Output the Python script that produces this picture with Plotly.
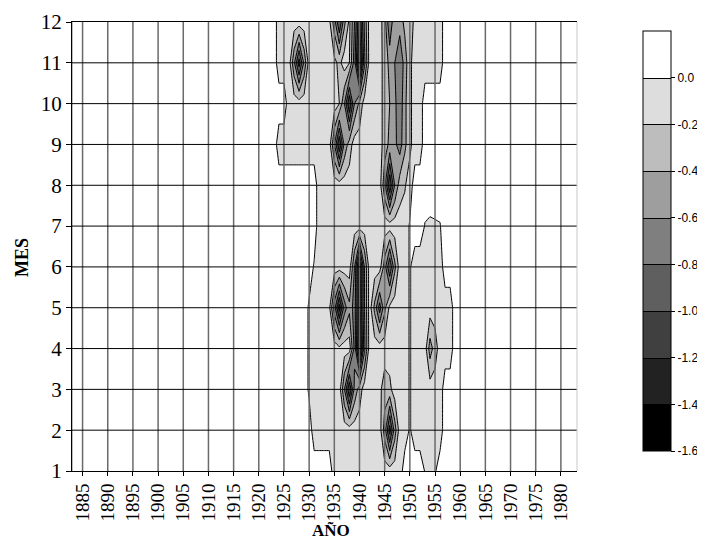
import plotly.graph_objects as go

# ---------------- data ----------------
YEARS = [1883,
         1921, 1922, 1923, 1924, 1925, 1926, 1927, 1928, 1929, 1930,
         1931, 1932, 1933, 1934, 1935, 1936, 1937, 1938, 1939, 1940,
         1941, 1942, 1943, 1944, 1945, 1946, 1947, 1948, 1949, 1950,
         1951, 1952, 1953, 1954, 1955, 1956, 1957, 1958, 1959, 1960,
         1961,
         1983]
MONTHS = [1, 2, 3, 4, 5, 6, 7, 8, 9, 10, 11, 12]

# one row per month; columns follow YEARS
m01 = [0.1,  0.1, 0.1, 0.1, 0.1, 0.1, 0.1, 0.1, 0.1, 0.1, 0.1,    0.1, 0.1, 0.1, 0.1, -0.1, -0.1, -0.1, -0.1, -0.1, -0.1,    -0.1, -0.1, -0.1, -0.1, -0.1, -0.1, -0.1, -0.1, 0.1, 0.1,    0.1, 0.1, -0.01, -0.04, -0.02, 0.1, 0.1, 0.1, 0.1, 0.1,    0.1, 0.1]
m02 = [0.1,  0.1, 0.1, 0.1, 0.1, 0.1, 0.1, 0.1, 0.1, 0.1, 0.1,    -0.1, -0.1, -0.1, -0.1, -0.1, -0.1, -0.1, -0.1, -0.1, -0.1,    -0.1, -0.1, -0.1, -0.1, -0.5, -1.1, -0.5, -0.1, -0.1, 0.02,    -0.1, -0.1, -0.1, -0.1, -0.1, -0.1, 0.1, 0.1, 0.1, 0.1,    0.1, 0.1]
m03 = [0.1,  0.1, 0.1, 0.1, 0.1, 0.1, 0.1, 0.1, 0.1, 0.1, -0.03,  -0.1, -0.1, -0.1, -0.1, -0.1, -0.1, -0.6, -1.2, -0.55, -0.3,   -0.1, -0.1, -0.1, -0.15, -0.3, -0.25, -0.1, -0.1, -0.1, 0.02,   -0.1, -0.1, -0.1, -0.1, -0.1, -0.1, 0.1, 0.1, 0.1, 0.1,    0.1, 0.1]
m04 = [0.1,  0.1, 0.1, 0.1, 0.1, 0.1, 0.1, 0.1, 0.1, 0.1, -0.03,  -0.1, -0.1, -0.1, -0.1, -0.1, -0.15, -0.1, -0.1, -0.65, -1.5,  -0.65, -0.1, -0.1, -0.1, -0.1, -0.1, -0.1, -0.1, -0.1, 0.02,    -0.1, -0.1, -0.1, -0.5, -0.3, -0.1, -0.1, -0.1, 0.1, 0.1,    0.1, 0.1]
m05 = [0.1,  0.1, 0.1, 0.1, 0.1, 0.1, 0.1, 0.1, 0.1, 0.1, -0.03,  -0.1, -0.1, -0.1, -0.15, -0.7, -1.3, -0.7, -0.45, -0.7, -1.3,  -0.6, -0.1, -0.45, -0.9, -0.45, -0.15, -0.1, -0.1, -0.1, 0.02,  -0.1, -0.1, -0.1, -0.1, -0.1, -0.1, -0.1, -0.1, 0.1, 0.1,    0.1, 0.1]
m06 = [0.1,  0.1, 0.1, 0.1, 0.1, 0.1, 0.1, 0.1, 0.1, 0.1, 0.1,    -0.02, -0.1, -0.1, -0.1, -0.1, -0.1, -0.1, -0.1, -0.6, -1.4,  -0.6, -0.1, -0.1, -0.1, -0.5, -1.0, -0.45, -0.1, -0.1, 0.02,   -0.1, -0.1, -0.1, -0.1, -0.1, -0.1, 0.1, 0.1, 0.1, 0.1,    0.1, 0.1]
m07 = [0.1,  0.1, 0.1, 0.1, 0.1, 0.1, 0.1, 0.1, 0.1, 0.1, 0.1,    0.1, -0.1, -0.1, -0.1, -0.1, -0.1, -0.1, -0.1, -0.1, -0.1,    -0.1, -0.1, -0.1, -0.1, -0.1, -0.1, -0.1, -0.1, -0.1, 0.02,    0.1, 0.1, -0.01, -0.03, -0.02, -0.01, 0.1, 0.1, 0.1, 0.1,    0.1, 0.1]
m08 = [0.1,  0.1, 0.1, 0.1, 0.1, 0.1, 0.1, 0.1, 0.1, 0.1, 0.1,    0.1, -0.1, -0.1, -0.1, -0.1, -0.1, -0.1, -0.1, -0.1, -0.1,    -0.1, -0.1, -0.1, -0.1, -0.55, -1.2, -0.6, -0.3, -0.22, -0.1,  0.1, 0.1, 0.1, 0.1, 0.1, 0.1, 0.1, 0.1, 0.1, 0.1,    0.1, 0.1]
m09 = [0.1,  0.1, 0.1, 0.1, -0.1, -0.1, -0.1, -0.1, -0.1, -0.1, -0.1,  -0.1, -0.1, -0.1, -0.1, -0.6, -1.2, -0.55, -0.3, -0.1, -0.1,  -0.1, -0.1, -0.1, -0.1, -0.3, -0.45, -0.55, -0.7, -0.45, -0.25,  -0.1, -0.1, 0.1, 0.1, 0.1, 0.1, 0.1, 0.1, 0.1, 0.1,    0.1, 0.1]
m10 = [0.1,  0.1, 0.1, 0.1, 0.1, 0.1, -0.1, -0.1, -0.1, -0.1, -0.1,  -0.1, -0.1, -0.1, -0.1, -0.1, -0.2, -0.6, -1.2, -0.6, -0.35,  -0.1, -0.1, -0.1, -0.1, -0.3, -0.4, -0.55, -0.75, -0.45, -0.25,  -0.1, -0.1, 0.1, 0.1, 0.1, 0.1, 0.1, 0.1, 0.1, 0.1,    0.1, 0.1]
m11 = [0.1,  0.1, 0.1, 0.1, -0.1, -0.1, -0.1, -0.55, -1.1, -0.55, -0.1,  -0.1, -0.1, -0.1, -0.1, -0.15, -0.25, -0.1, -0.2, -0.7, -1.5,  -0.65, -0.1, -0.1, -0.1, -0.3, -0.45, -0.6, -0.8, -0.5, -0.25,  -0.1, -0.1, -0.1, -0.1, -0.1, -0.1, 0.1, 0.1, 0.1, 0.1,    0.1, 0.1]
m12 = [0.1,  0.1, 0.1, 0.1, -0.1, -0.1, -0.1, -0.1, -0.1, -0.1, -0.1,  -0.1, -0.1, -0.1, -0.15, -0.5, -1.0, -0.45, -0.15, -0.6, -1.2,  -0.55, -0.1, -0.1, -0.12, -0.3, -0.8, -0.4, -0.5, -0.35, -0.4,  -0.1, -0.1, -0.1, -0.1, -0.1, -0.1, 0.1, 0.1, 0.1, 0.1,    0.1, 0.1]

Z = [m01, m02, m03, m04, m05, m06, m07, m08, m09, m10, m11, m12]

LEVEL_START = -1.4
LEVEL_END = 0.0
LEVEL_STEP = 0.2
Z_MIN = -1.6
Z_MAX = 0.2

BAND_COLORS = ["#000000", "#222222", "#404040", "#5f5f5f", "#7f7f7f",
               "#9e9e9e", "#bdbdbd", "#dddddd", "#ffffff"]

CB_TICKS = [0.0, -0.2, -0.4, -0.6, -0.8, -1.0, -1.2, -1.4, -1.6]
CB_LABELS = ["0.0", "-0.2", "-0.4", "-0.6", "-0.8", "-1.0", "-1.2", "-1.4", "-1.6"]

X_TICKS = [1885, 1890, 1895, 1900, 1905, 1910, 1915, 1920, 1925, 1930,
           1935, 1940, 1945, 1950, 1955, 1960, 1965, 1970, 1975, 1980]
Y_TICKS = [1, 2, 3, 4, 5, 6, 7, 8, 9, 10, 11, 12]

X_TITLE = "AÑO"
Y_TITLE = "MES"

# ---------------- figure ----------------
# the page body has an 8px margin, so the figure is drawn 8px smaller and
# every page position below is shifted by OFF
OFF = 8
W, H = 705 - OFF, 543 - OFF
P_LEFT, P_RIGHT, P_TOP, P_BOTTOM = 72 - OFF, 577 - OFF, 22 - OFF, 471 - OFF
ML, MR, MT, MB = P_LEFT, W - P_RIGHT, P_TOP, H - P_BOTTOM
PW = P_RIGHT - P_LEFT
PH = P_BOTTOM - P_TOP


def px_x(px):
    return (px - OFF - P_LEFT) / PW


def px_y(py):
    return (P_BOTTOM - (py - OFF)) / PH


n = len(BAND_COLORS) - 1
colorscale = [[i / n, c] for i, c in enumerate(BAND_COLORS)]

fig = go.Figure()
fig.add_trace(go.Contour(
    x=YEARS, y=MONTHS, z=Z,
    zmin=Z_MIN, zmax=Z_MAX, zauto=False,
    autocontour=False,
    contours=dict(start=LEVEL_START, end=LEVEL_END, size=LEVEL_STEP,
                  coloring="fill", showlines=True),
    line=dict(color="black", width=1, smoothing=0),
    colorscale=colorscale,
    colorbar=dict(
        tickmode="array", tickvals=CB_TICKS, ticktext=CB_LABELS,
        ticks="outside", ticklen=4, tickcolor="black", tickwidth=1,
        outlinecolor="black", outlinewidth=1,
        thickness=28, thicknessmode="pixels",
        len=420, lenmode="pixels",
        x=px_x(643), xanchor="left", xpad=0,
        y=px_y(31), yanchor="top", ypad=0,
        tickfont=dict(family="Liberation Sans", size=12, color="black"),
    ),
    hoverinfo="skip",
))

shapes = []
for yr in X_TICKS:
    shapes.append(dict(type="line", xref="x", yref="paper", x0=yr, x1=yr, y0=0, y1=1,
                       line=dict(color="#6a6a6a", width=1.5), layer="above"))
for m in Y_TICKS[1:-1]:
    shapes.append(dict(type="line", xref="paper", yref="y", x0=0, x1=1, y0=m, y1=m,
                       line=dict(color="black", width=1), layer="above"))
shapes.append(dict(type="line", xref="paper", yref="paper", x0=1, x1=1, y0=0, y1=1,
                   line=dict(color="#c8c8c8", width=1), layer="above"))

serif = "Liberation Serif, Times New Roman, serif"
fig.update_layout(
    width=W, height=H,
    margin=dict(l=ML, r=MR, t=MT, b=MB, autoexpand=False),
    paper_bgcolor="white", plot_bgcolor="white",
    showlegend=False,
    shapes=shapes,
    xaxis=dict(range=[1882.9, 1983.2], tickmode="array", tickvals=X_TICKS,
               tickangle=-90, ticks="outside", ticklen=4, tickcolor="black",
               showline=True, linecolor="black", linewidth=1, mirror=True,
               showgrid=False, zeroline=False,
               tickfont=dict(family=serif, size=19, color="black")),
    yaxis=dict(range=[1, 12], tickmode="array", tickvals=Y_TICKS,
               ticks="outside", ticklen=5, tickcolor="black",
               showline=True, linecolor="black", linewidth=1, mirror=False,
               showgrid=False, zeroline=False,
               tickfont=dict(family=serif, size=21, color="black")),
    annotations=[
        dict(text="<b>" + Y_TITLE + "</b>", xref="paper", yref="paper",
             x=px_x(22), y=px_y(258), xanchor="center", yanchor="middle",
             textangle=-90, showarrow=False,
             font=dict(family=serif, size=18, color="black")),
        dict(text="<b>" + X_TITLE + "</b>", xref="paper", yref="paper",
             x=px_x(331), y=px_y(530), xanchor="center", yanchor="middle",
             showarrow=False,
             font=dict(family=serif, size=17, color="black")),
    ],
)

fig.write_html("out.html")
